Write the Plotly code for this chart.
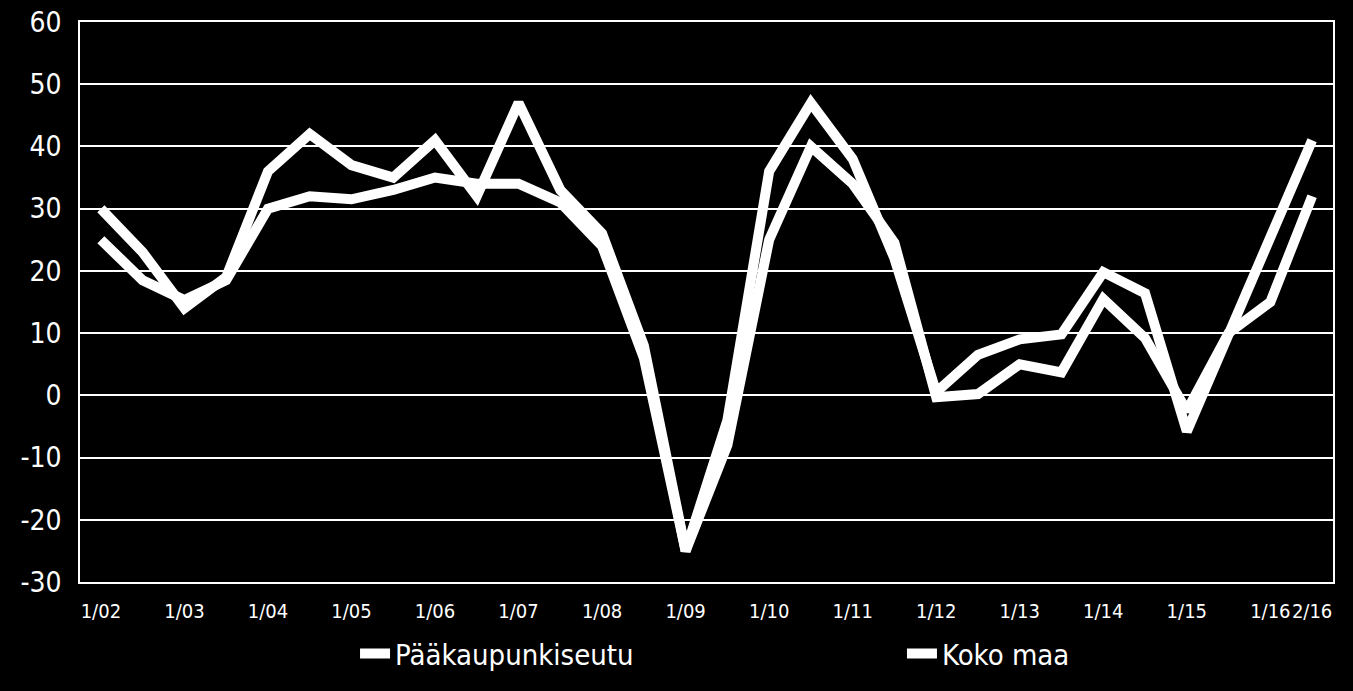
import plotly.graph_objects as go

periods = [
    "1/02", "2/02", "1/03", "2/03", "1/04", "2/04", "1/05", "2/05",
    "1/06", "2/06", "1/07", "2/07", "1/08", "2/08", "1/09", "2/09",
    "1/10", "2/10", "1/11", "2/11", "1/12", "2/12", "1/13", "2/13",
    "1/14", "2/14", "1/15", "2/15", "1/16", "2/16",
]

paakaupunkiseutu = [
    30, 23, 14, 19, 36, 42, 37, 35, 41, 32, 47, 33, 26, 8, -25,
    -4, 36, 47, 38, 22, 0.5, 6.5, 9, 9.8, 19.8, 16.4, -5.8, 9.6, 25, 41,
]
koko_maa = [
    25, 18.5, 15.3, 18.5, 30, 32, 31.5, 33, 35, 34, 34, 31, 24, 6, -25,
    -8, 25, 40, 34, 24.5, -0.3, 0.2, 5, 3.7, 15.5, 9.2, -2.5, 10, 15, 32,
]

y_ticks = [-30, -20, -10, 0, 10, 20, 30, 40, 50, 60]

# every "1/yy" label plus the final period
tick_vals = [p for i, p in enumerate(periods) if i % 2 == 0] + [periods[-1]]

FONT = "Liberation Sans Narrow, DejaVu Sans Condensed, sans-serif"

fig = go.Figure()
series = [
    ("Pääkaupunkiseutu", paakaupunkiseutu, "legend"),
    ("Koko maa", koko_maa, "legend2"),
]
for name, vals, leg in series:
    fig.add_trace(go.Scatter(
        x=periods, y=vals, name=name, mode="lines", legend=leg,
        line=dict(color="white", width=10),
    ))

leg_style = dict(
    orientation="h", y=-0.128, yanchor="middle", xanchor="left",
    font=dict(size=29, color="white"), bgcolor="rgba(0,0,0,0)",
)

fig.update_layout(
    width=1353, height=691,
    paper_bgcolor="black", plot_bgcolor="black",
    margin=dict(l=80, r=20, t=22, b=102),
    font=dict(family=FONT, color="white"),
    showlegend=True,
    legend=dict(x=0.2195, **leg_style),
    legend2=dict(x=0.656, **leg_style),
)
fig.update_xaxes(
    type="category", range=[-0.5, len(periods) - 0.5],
    tickmode="array", tickvals=tick_vals, ticktext=tick_vals,
    tickfont=dict(size=20, color="white"), tickangle=0, showgrid=False,
    showline=True, linecolor="white", linewidth=1.5, mirror=True,
    ticks="", ticklabelstandoff=10, automargin=False,
)
fig.update_yaxes(
    range=[-30, 60], tickmode="array", tickvals=y_ticks,
    ticktext=[str(v) for v in y_ticks],
    tickfont=dict(size=28, color="white"),
    showgrid=True, gridcolor="white", gridwidth=1.5,
    showline=True, linecolor="white", linewidth=1.5, mirror=True,
    zeroline=False, ticks="", ticklabelstandoff=11, automargin=False,
)

fig.write_html(
    "out.html",
    config={"displayModeBar": False},
    post_script="document.body.style.margin='0';",
)
